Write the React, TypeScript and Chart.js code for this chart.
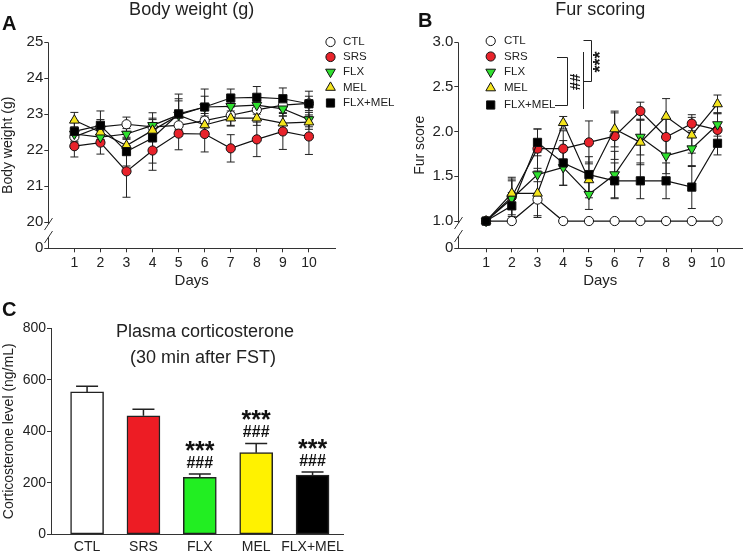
import React, { useEffect, useRef } from 'react';
import { Chart, registerables } from 'chart.js';

Chart.register(...registerables);

const FONT = '"Liberation Sans", Arial, Helvetica, sans-serif';
const INK = '#222222';
Chart.defaults.font.family = FONT;
Chart.defaults.color = INK;

// ---------------- data ----------------
const days = [1, 2, 3, 4, 5, 6, 7, 8, 9, 10];
const groups = ['CTL', 'SRS', 'FLX', 'MEL', 'FLX+MEL'];

// A: body weight (g), mean
const bwCTL = [22.37, 22.65, 22.72, 22.65, 22.69, 22.82, 22.97, 23.12, 23.25, 23.3];
const bwSRS = [22.11, 22.21, 21.41, 21.99, 22.46, 22.45, 22.05, 22.3, 22.52, 22.38];
const bwFLX = [22.45, 22.36, 22.45, 22.69, 22.98, 23.2, 23.22, 23.25, 23.15, 22.85];
const bwMEL = [22.83, 22.5, 22.13, 22.55, 22.97, 22.7, 22.89, 22.89, 22.75, 22.78];
const bwFLXMEL = [22.52, 22.69, 21.96, 22.34, 23.01, 23.2, 23.45, 23.47, 23.43, 23.29];
// A: SEM
const bwCTLsem = [0.2, 0.2, 0.2, 0.2, 0.3, 0.2, 0.3, 0.25, 0.2, 0.2];
const bwSRSsem = [0.3, 0.32, 0.72, 0.55, 0.45, 0.5, 0.38, 0.48, 0.5, 0.5];
const bwFLXsem = [0.2, 0.2, 0.15, 0.2, 0.45, 0.3, 0.25, 0.25, 0.2, 0.2];
const bwMELsem = [0.22, 0.2, 0.2, 0.2, 0.4, 0.2, 0.2, 0.2, 0.2, 0.2];
const bwFLXMELsem = [0.3, 0.4, 0.4, 0.7, 0.55, 0.5, 0.25, 0.3, 0.3, 0.35];

// B: fur score, mean
const furCTL = [1, 1, 1.24, 1, 1, 1, 1, 1, 1, 1];
const furSRS = [1, 1.27, 1.81, 1.81, 1.88, 1.95, 2.23, 1.94, 2.09, 2.02];
const furFLX = [1, 1.25, 1.52, 1.6, 1.3, 1.52, 1.94, 1.73, 1.81, 2.08];
const furMEL = [1, 1.31, 1.31, 2.1, 1.46, 2.03, 1.88, 2.17, 1.96, 2.31];
const furFLXMEL = [1, 1.17, 1.88, 1.65, 1.52, 1.45, 1.45, 1.45, 1.38, 1.87];
// B: SEM
const furCTLsem = [0, 0, 0.2, 0, 0, 0, 0, 0, 0, 0];
const furSRSsem = [0, 0.2, 0.22, 0.2, 0.24, 0.26, 0.1, 0.2, 0.1, 0.18];
const furFLXsem = [0, 0.2, 0.25, 0.2, 0.17, 0.26, 0.2, 0.2, 0.2, 0.13];
const furMELsem = [0, 0.18, 0.25, 0.07, 0.2, 0.2, 0.25, 0.2, 0.2, 0.1];
const furFLXMELsem = [0, 0.15, 0.15, 0.25, 0.2, 0.2, 0.2, 0.2, 0.24, 0.13];

// C: plasma corticosterone (ng/mL)
const cortMean = [553, 460, 221, 317, 230];
const cortSem = [22, 26, 13, 36, 12];
const cortVsCTL = ['', '', '***', '***', '***'];
const cortVsSRS = ['', '', '###', '###', '###'];

// tick values
const bwTicks = [20, 21, 22, 23, 24, 25];
const furTicks = [1.0, 1.5, 2.0, 2.5, 3.0];
const cortTicks = [0, 200, 400, 600, 800];

// ---------------- styles ----------------
const markerFill = ['#ffffff', '#e8232b', '#2fe02f', '#f4e41c', '#000000'];
const markerShape = ['circle', 'circle', 'triangle', 'triangle', 'rect'];
const markerRot = [0, 0, 180, 0, 0];
const markerRadius = [4.6, 4.6, 5.6, 5.6, 5.8];
const barFill = ['#ffffff', '#ed1c24', '#22ee22', '#fff200', '#000000'];

function drawMarker(ctx: CanvasRenderingContext2D, i: number, x: number, y: number) {
  const r = markerRadius[i];
  ctx.beginPath();
  if (markerShape[i] === 'circle') {
    ctx.arc(x, y, r, 0, Math.PI * 2);
  } else if (markerShape[i] === 'rect') {
    const s = r * Math.SQRT1_2;
    ctx.rect(x - s, y - s, 2 * s, 2 * s);
  } else {
    let rad = (markerRot[i] * Math.PI) / 180;
    for (let k = 0; k < 3; k++) {
      const px = x + Math.sin(rad) * r;
      const py = y - Math.cos(rad) * r;
      if (k === 0) ctx.moveTo(px, py);
      else ctx.lineTo(px, py);
      rad += (2 * Math.PI) / 3;
    }
    ctx.closePath();
  }
  ctx.fillStyle = markerFill[i];
  ctx.fill();
  ctx.strokeStyle = '#111';
  ctx.lineWidth = 1;
  ctx.stroke();
}

function drawLegend(ctx: CanvasRenderingContext2D, mx: number, tx: number, ys: number[]) {
  groups.forEach((g, i) => {
    drawMarker(ctx, i, mx, ys[i]);
    ctx.fillStyle = INK;
    ctx.font = `11.5px ${FONT}`;
    ctx.textAlign = 'left';
    ctx.textBaseline = 'middle';
    ctx.fillText(g, tx, ys[i]);
  });
}

function drawBrokenAxis(chart: any, breakValue: number) {
  const { ctx, chartArea, scales } = chart;
  const y = scales.y;
  const x = Math.round(chartArea.left) + 0.5;
  const pb = y.getPixelForValue(breakValue);
  const b1 = pb + 2;
  const b2 = pb + 15;
  ctx.save();
  ctx.strokeStyle = '#333';
  ctx.lineWidth = 1;
  ctx.beginPath();
  ctx.moveTo(x, chartArea.top);
  ctx.lineTo(x, b1);
  ctx.moveTo(x, b2);
  ctx.lineTo(x, chartArea.bottom);
  ctx.moveTo(x - 4, b1 + 6);
  ctx.lineTo(x + 4, b1 - 6);
  ctx.moveTo(x - 4, b2 + 6);
  ctx.lineTo(x + 4, b2 - 6);
  ctx.stroke();
  ctx.restore();
}

function drawLetter(ctx: CanvasRenderingContext2D, t: string, x: number, y: number) {
  ctx.save();
  ctx.fillStyle = '#111';
  ctx.font = `bold 20px ${FONT}`;
  ctx.textAlign = 'left';
  ctx.textBaseline = 'alphabetic';
  ctx.fillText(t, x, y);
  ctx.restore();
}

function errorBarPlugin(errs: number[][]) {
  return {
    id: 'errbars',
    beforeDatasetsDraw(chart: any) {
      const { ctx, scales } = chart;
      const { x, y } = scales;
      ctx.save();
      ctx.strokeStyle = INK;
      ctx.lineWidth = 1;
      errs.forEach((arr, i) => {
        const ds = chart.data.datasets[i];
        arr.forEach((e, k) => {
          if (!e) return;
          const pt = ds.data[k];
          const px = x.getPixelForValue(pt.x);
          const y1 = y.getPixelForValue(pt.y + e);
          const y2 = y.getPixelForValue(pt.y - e);
          ctx.beginPath();
          ctx.moveTo(px, y1);
          ctx.lineTo(px, y2);
          ctx.moveTo(px - 4, y1);
          ctx.lineTo(px + 4, y1);
          ctx.moveTo(px - 4, y2);
          ctx.lineTo(px + 4, y2);
          ctx.stroke();
        });
      });
      ctx.restore();
    },
  };
}

interface LineOpts {
  means: number[][];
  errs: number[][];
  title: string;
  yTitle: string;
  yMin: number;
  yMax: number;
  yTicks: number[];
  breakValue: number;
  yFmt: (v: number) => string;
  xMin: number;
  xMax: number;
  padLeft: number;
  padRight: number;
  yWidth: number;
  decorate: (chart: any) => void;
}

function lineConfig(o: LineOpts): any {
  const datasets = groups.map((g, i) => ({
    label: g,
    data: days.map((d, k) => ({ x: d, y: o.means[i][k] })),
    borderColor: '#111',
    borderWidth: 1.2,
    pointStyle: markerShape[i],
    pointRotation: markerRot[i],
    pointRadius: markerRadius[i],
    pointHoverRadius: markerRadius[i],
    pointBackgroundColor: markerFill[i],
    pointBorderColor: '#111',
    pointBorderWidth: 1,
    tension: 0,
    fill: false,
    order: groups.length - 1 - i,
  }));
  return {
    type: 'line',
    data: { datasets },
    options: {
      animation: false,
      responsive: false,
      devicePixelRatio: 1,
      layout: { padding: { left: o.padLeft, right: o.padRight, top: 0, bottom: 0 } },
      plugins: {
        legend: { display: false },
        tooltip: { enabled: false },
        title: {
          display: true,
          text: o.title,
          fullSize: false,
          color: INK,
          font: { size: 18, weight: 'normal', lineHeight: 1 },
          padding: { top: 1, bottom: 23.3 },
        },
      },
      scales: {
        x: {
          type: 'linear',
          min: o.xMin,
          max: o.xMax,
          afterBuildTicks: (s: any) => {
            s.ticks = days.map((v) => ({ value: v }));
          },
          afterFit: (s: any) => {
            s.height = 41.7;
          },
          ticks: {
            autoSkip: false,
            maxRotation: 0,
            padding: 2,
            color: INK,
            font: { size: 14 },
            callback: (v: any) => String(v),
          },
          grid: { display: true, drawOnChartArea: false, drawTicks: true, tickLength: 4, color: '#333' },
          border: { display: true, color: '#333', width: 1 },
          title: { display: true, text: 'Days', color: INK, font: { size: 15 }, padding: { top: 0, bottom: 0 } },
        },
        y: {
          type: 'linear',
          min: o.yMin,
          max: o.yMax,
          afterBuildTicks: (s: any) => {
            s.ticks = [o.yMin, ...o.yTicks].map((v) => ({ value: v }));
          },
          afterFit: (s: any) => {
            s.width = o.yWidth;
          },
          ticks: {
            autoSkip: false,
            padding: 1,
            color: INK,
            font: { size: 15 },
            callback: (v: any) => (v < o.breakValue ? '0' : o.yFmt(v)),
          },
          grid: { display: true, drawOnChartArea: false, drawTicks: true, tickLength: 4, color: '#333' },
          border: { display: false },
          title: { display: true, text: o.yTitle, color: INK, font: { size: 14 }, padding: { top: 0, bottom: 0 } },
        },
      },
    },
    plugins: [
      errorBarPlugin(o.errs),
      {
        id: 'decor',
        afterDraw(chart: any) {
          drawBrokenAxis(chart, o.breakValue);
          o.decorate(chart);
        },
      },
    ],
  };
}

function configA(): any {
  return lineConfig({
    means: [bwCTL, bwSRS, bwFLX, bwMEL, bwFLXMEL],
    errs: [bwCTLsem, bwSRSsem, bwFLXsem, bwMELsem, bwFLXMELsem],
    title: 'Body weight (g)',
    yTitle: 'Body weight (g)',
    yMin: 19.27,
    yMax: 25,
    yTicks: bwTicks,
    breakValue: 20,
    yFmt: (v) => String(v),
    xMin: 0,
    xMax: 11,
    padLeft: 0,
    padRight: 65,
    yWidth: 48.3,
    decorate: (chart) => {
      const ctx = chart.ctx;
      drawLegend(ctx, 330.5, 343, [42, 57, 72, 87.5, 103]);
      drawLetter(ctx, 'A', 2, 30);
    },
  });
}

function configB(): any {
  return lineConfig({
    means: [furCTL, furSRS, furFLX, furMEL, furFLXMEL],
    errs: [furCTLsem, furSRSsem, furFLXsem, furMELsem, furFLXMELsem],
    title: 'Fur scoring',
    yTitle: 'Fur score',
    yMin: 0.695,
    yMax: 3.0,
    yTicks: furTicks,
    breakValue: 1.0,
    yFmt: (v) => v.toFixed(1),
    xMin: -0.08,
    xMax: 10.96,
    padLeft: 11.6,
    padRight: 2.3,
    yWidth: 46.7,
    decorate: (chart) => {
      const ctx = chart.ctx;
      drawLegend(ctx, 90.7, 104, [41, 56.5, 72, 88, 105]);
      drawLetter(ctx, 'B', 18, 27);
      ctx.save();
      ctx.strokeStyle = INK;
      ctx.lineWidth = 1;
      ctx.beginPath();
      // ## bracket
      ctx.moveTo(157, 57.5);
      ctx.lineTo(167.5, 57.5);
      ctx.lineTo(167.5, 105.5);
      ctx.lineTo(155, 105.5);
      // long vertical
      ctx.moveTo(183.5, 52);
      ctx.lineTo(183.5, 109);
      // *** bracket
      ctx.moveTo(183.5, 40.5);
      ctx.lineTo(191.5, 40.5);
      ctx.lineTo(191.5, 81.5);
      ctx.lineTo(183.5, 81.5);
      ctx.stroke();
      ctx.fillStyle = '#111';
      ctx.textAlign = 'center';
      ctx.textBaseline = 'alphabetic';
      ctx.translate(180, 82);
      ctx.rotate(-Math.PI / 2);
      ctx.font = `bold 15px ${FONT}`;
      ctx.fillText('##', 0, 0);
      ctx.restore();
      ctx.save();
      ctx.fillStyle = '#111';
      ctx.textAlign = 'center';
      ctx.textBaseline = 'alphabetic';
      ctx.translate(206, 62);
      ctx.rotate(-Math.PI / 2);
      ctx.font = `bold 18px ${FONT}`;
      ctx.fillText('***', 0, 0);
      ctx.restore();
    },
  });
}

function configC(): any {
  return {
    type: 'bar',
    data: {
      datasets: [
        {
          label: 'Corticosterone',
          data: groups.map((g, i) => ({ x: i + 1, y: cortMean[i] })),
          backgroundColor: barFill,
          borderColor: '#222',
          borderWidth: 1.5,
          borderSkipped: false,
          barThickness: 33,
        },
      ],
    },
    options: {
      animation: false,
      responsive: false,
      devicePixelRatio: 1,
      layout: { padding: { left: 0, right: 32, top: 38.3, bottom: 0 } },
      plugins: { legend: { display: false }, tooltip: { enabled: false } },
      scales: {
        x: {
          type: 'linear',
          offset: false,
          min: 0.36,
          max: 5.54,
          afterBuildTicks: (s: any) => {
            s.ticks = groups.map((g, i) => ({ value: i + 1 }));
          },
          afterFit: (s: any) => {
            s.height = 17.7;
          },
          ticks: {
            autoSkip: false,
            maxRotation: 0,
            padding: 4,
            color: INK,
            font: { size: 14 },
            callback: (v: any) => groups[Math.round(v) - 1],
          },
          grid: { display: false, drawTicks: false, offset: false },
          border: { display: true, color: '#333', width: 1 },
        },
        y: {
          type: 'linear',
          min: 0,
          max: 800,
          afterBuildTicks: (s: any) => {
            s.ticks = cortTicks.map((v) => ({ value: v }));
          },
          afterFit: (s: any) => {
            s.width = 51;
          },
          ticks: { autoSkip: false, padding: 1, color: INK, font: { size: 14 } },
          grid: { display: true, drawOnChartArea: false, drawTicks: true, tickLength: 4, color: '#333' },
          border: { display: true, color: '#333', width: 1 },
          title: {
            display: true,
            text: 'Corticosterone level (ng/mL)',
            color: INK,
            font: { size: 14 },
            padding: { top: 1, bottom: 0 },
          },
        },
      },
    },
    plugins: [
      {
        id: 'cortDecor',
        beforeDatasetsDraw(chart: any) {
          const { ctx, scales } = chart;
          const { x, y } = scales;
          ctx.save();
          ctx.strokeStyle = INK;
          ctx.lineWidth = 1.5;
          cortMean.forEach((m, i) => {
            const px = x.getPixelForValue(i + 1);
            const yt = y.getPixelForValue(m + cortSem[i]);
            const yb = y.getPixelForValue(m);
            ctx.beginPath();
            ctx.moveTo(px, yb);
            ctx.lineTo(px, yt);
            ctx.moveTo(px - 11, yt);
            ctx.lineTo(px + 11, yt);
            ctx.stroke();
          });
          ctx.restore();
        },
        afterDraw(chart: any) {
          const { ctx, scales } = chart;
          const { x, y } = scales;
          ctx.save();
          ctx.fillStyle = '#111';
          ctx.textAlign = 'center';
          ctx.textBaseline = 'alphabetic';
          cortMean.forEach((m, i) => {
            const px = x.getPixelForValue(i + 1);
            const yt = y.getPixelForValue(m + cortSem[i]);
            if (cortVsSRS[i]) {
              ctx.font = `bold 16px ${FONT}`;
              ctx.fillText(cortVsSRS[i], px, yt - 6.4);
            }
            if (cortVsCTL[i]) {
              ctx.font = `bold 25px ${FONT}`;
              ctx.fillText(cortVsCTL[i], px, yt - 15);
            }
          });
          ctx.fillStyle = INK;
          ctx.font = `18px ${FONT}`;
          ctx.fillText('Plasma corticosterone', 205, 47);
          ctx.fillText('(30 min after FST)', 203, 73);
          ctx.restore();
          drawLetter(ctx, 'C', 2, 26);
        },
      },
    ],
  };
}

export default function App() {
  const refA = useRef<HTMLCanvasElement>(null);
  const refB = useRef<HTMLCanvasElement>(null);
  const refC = useRef<HTMLCanvasElement>(null);

  useEffect(() => {
    const charts = [
      new Chart(refA.current as HTMLCanvasElement, configA()),
      new Chart(refB.current as HTMLCanvasElement, configB()),
      new Chart(refC.current as HTMLCanvasElement, configC()),
    ];
    return () => charts.forEach((c) => c.destroy());
  }, []);

  return (
    <div
      style={{
        position: 'absolute',
        left: 0,
        top: 0,
        width: 749,
        height: 552,
        background: '#ffffff',
        overflow: 'hidden',
      }}
    >
      <canvas ref={refA} width={400} height={290} style={{ position: 'absolute', left: 0, top: 0 }} />
      <canvas ref={refB} width={349} height={290} style={{ position: 'absolute', left: 400, top: 0 }} />
      <canvas ref={refC} width={375} height={262} style={{ position: 'absolute', left: 0, top: 290 }} />
    </div>
  );
}
